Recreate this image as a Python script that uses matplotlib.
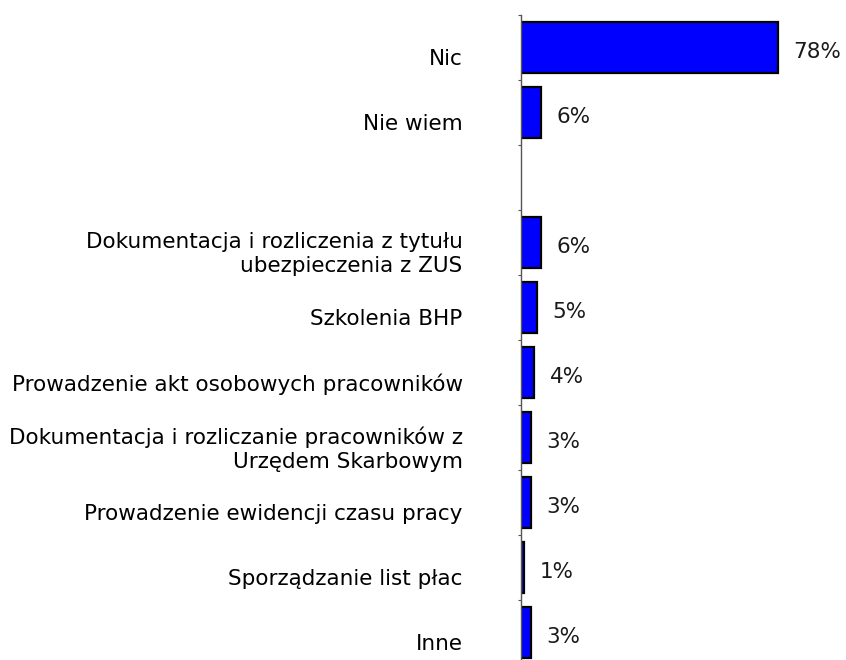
import matplotlib.pyplot as plt
from matplotlib.transforms import ScaledTranslation

# ===== data =====
categories = [
    "Nic",
    "Nie wiem",
    "Dokumentacja i rozliczenia z tytułu\nubezpieczenia z ZUS",
    "Szkolenia BHP",
    "Prowadzenie akt osobowych pracowników",
    "Dokumentacja i rozliczanie pracowników z\nUrzędem Skarbowym",
    "Prowadzenie ewidencji czasu pracy",
    "Sporządzanie list płac",
    "Inne",
]
values = [78, 6, 6, 5, 4, 3, 3, 1, 3]
labels = ["78%", "6%", "6%", "5%", "4%", "3%", "3%", "1%", "3%"]

# empty row between the first two answers and the rest
GAP_AFTER = 1
pos = [i if i <= GAP_AFTER else i + 1 for i in range(len(values))]
n_slots = len(values) + 1

W, H, DPI = 846, 660, 100
fig = plt.figure(figsize=(W / DPI, H / DPI), dpi=DPI)
ax = fig.add_axes([521 / W, -5 / H, 95 * 3.295 / W, 650 / H])

ax.barh(pos, values, height=0.77, color="#0000FF", edgecolor="black", linewidth=1.6)

ax.set_xlim(0, 95)
ax.set_ylim(n_slots - 0.5, -0.5)

for s in ["top", "right", "bottom"]:
    ax.spines[s].set_visible(False)
ax.spines["left"].set_color("#555555")
ax.spines["left"].set_linewidth(1.0)
ax.set_xticks([])

# category labels at row centres, small ticks on row boundaries
ax.set_yticks(pos)
ax.set_yticklabels(categories, fontsize=15.5, family="DejaVu Sans", ha="right",
                   multialignment="right", linespacing=1.25)
ax.tick_params(axis="y", which="major", length=0, pad=42)
ax.set_yticks([k - 0.5 for k in range(n_slots + 1)], minor=True)
ax.tick_params(axis="y", which="minor", length=2.5, width=0.8, color="#555555")
for t in ax.get_yticklabels():
    dy = 7.5 if "\n" in t.get_text() else 9.5
    t.set_transform(t.get_transform() + ScaledTranslation(0, -dy / DPI, fig.dpi_scale_trans))

# value labels to the right of each bar
for p, v, lab in zip(pos, values, labels):
    ax.annotate(lab, (v, p), xytext=(11, -3.5), textcoords="offset points",
                va="center", ha="left", fontsize=15.5, family="DejaVu Sans", color="#1a1a1a")

fig.savefig("out.png", dpi=DPI)
